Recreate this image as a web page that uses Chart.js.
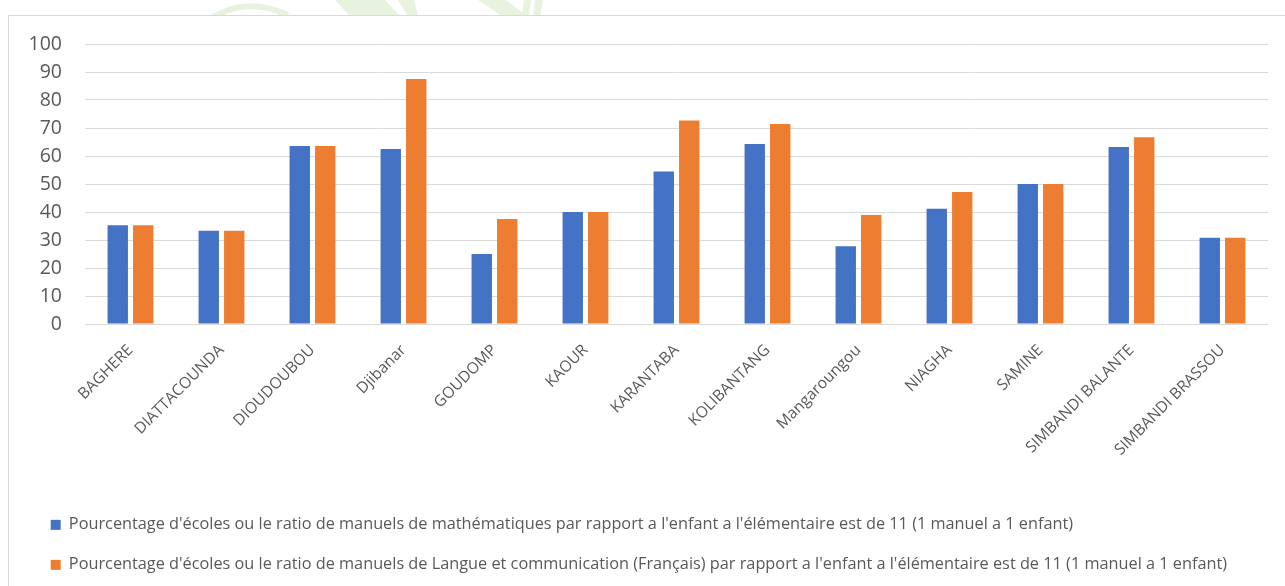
<!DOCTYPE html>
<html><head><meta charset="utf-8">
<script src="https://cdn.jsdelivr.net/npm/chart.js@4.4.1/dist/chart.umd.min.js"></script>
<style>
html,body{margin:0;padding:0;background:#fff;width:1285px;height:586px;overflow:hidden}
#frame{position:absolute;left:8px;top:15px;width:1300px;height:600px;border-left:1px solid #d9d9d9;border-top:1px solid #d9d9d9;box-sizing:border-box}
#wm{position:absolute;left:0;top:0}
#c{position:absolute;left:0;top:0}
</style></head><body>
<svg id="wm" width="1285" height="16">
  <path d="M212 18 Q245 -4 288 15" stroke="#e8f3df" stroke-width="6" fill="none"/>
  <polygon points="335,0 385,0 400,16 350,16" fill="#e8f3df"/>
  <polygon points="398,0 414,0 418,16 408,16" fill="#e8f3df"/>
  <polygon points="478,0 506,0 527,16 502,16" fill="#e8f3df"/>
  <polygon points="524,0 531,0 529,16 522,16" fill="#e8f3df"/>
  <polygon points="535,0 543,0 540,16 533,16" fill="#e8f3df"/>
</svg>
<div id="frame"></div>
<canvas id="c" width="1285" height="586"></canvas>
<script>
const categories = ["BAGHERE","DIATTACOUNDA","DIOUDOUBOU","Djibanar","GOUDOMP","KAOUR","KARANTABA","KOLIBANTANG","Mangaroungou","NIAGHA","SAMINE","SIMBANDI BALANTE","SIMBANDI BRASSOU"];
const mathValues = [35.3, 33.3, 63.6, 62.5, 25.0, 40.0, 54.5, 64.3, 27.8, 41.2, 50.0, 63.2, 30.8];
const frenchValues = [35.3, 33.3, 63.6, 87.5, 37.5, 40.0, 72.7, 71.4, 38.9, 47.1, 50.0, 66.7, 30.8];
const seriesNames = [
  "Pourcentage d'écoles ou le ratio de manuels de mathématiques par rapport a l'enfant a l'élémentaire est de 11 (1 manuel a 1 enfant)",
  "Pourcentage d'écoles ou le ratio de manuels de Langue et communication (Français) par rapport a l'enfant a l'élémentaire est de 11 (1 manuel a 1 enfant)"
];
const yMin = 0, yMax = 100, yStep = 10;

const FONT = "'Open Sans', sans-serif";
const TXT = '#595959';
const LEG_FONT = 16.3, LEG_PAD = 23.7;

new Chart(document.getElementById('c'), {
  type: 'bar',
  data: {
    labels: categories,
    datasets: [
      { label: seriesNames[0], data: mathValues, backgroundColor: '#4472C4', categoryPercentage: 0.56, barPercentage: 0.8 },
      { label: seriesNames[1], data: frenchValues, backgroundColor: '#ED7D31', categoryPercentage: 0.56, barPercentage: 0.8 }
    ]
  },
  options: {
    responsive: false,
    animation: false,
    devicePixelRatio: 1,
    layout: { padding: { left: 27, right: 17, top: 44, bottom: 3 } },
    plugins: {
      tooltip: { enabled: false },
      legend: {
        position: 'bottom',
        align: 'start',
        labels: { boxWidth: 10, boxHeight: 10, padding: LEG_PAD, color: TXT, font: { family: FONT, size: LEG_FONT } }
      }
    },
    scales: {
      x: {
        grid: { display: false, drawTicks: false },
        border: { display: false },
        ticks: { color: TXT, font: { family: FONT, size: 15.6 }, maxRotation: 45, minRotation: 45, padding: 17, autoSkip: false },
        afterFit: (s) => { s.height = 169; }
      },
      y: {
        min: yMin, max: yMax,
        grid: { color: '#d9d9d9', lineWidth: 1, drawTicks: false },
        border: { display: false },
        ticks: { stepSize: yStep, color: TXT, font: { family: FONT, size: 19.5 }, padding: 23 },
        afterFit: (s) => { s.width = 58; }
      }
    }
  }
});
</script>
</body></html>
